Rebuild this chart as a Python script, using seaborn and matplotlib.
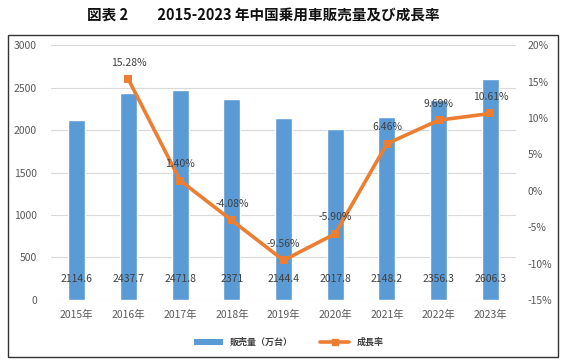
import numpy as np
import pandas as pd
import matplotlib
matplotlib.use("Agg")
import matplotlib.pyplot as plt
import seaborn as sns
from matplotlib.patches import Rectangle
from matplotlib.lines import Line2D
from matplotlib.patches import Patch

# ==========================================
# Data
# ==========================================

years = ["2015年", "2016年", "2017年", "2018年", "2019年",
         "2020年", "2021年", "2022年", "2023年"]
sales = [2114.6, 2437.7, 2471.8, 2371, 2144.4, 2017.8, 2148.2, 2356.3, 2606.3]
sales_labels = ["2114.6", "2437.7", "2471.8", "2371", "2144.4",
                "2017.8", "2148.2", "2356.3", "2606.3"]
growth = [np.nan, 15.28, 1.40, -4.08, -9.56, -5.90, 6.46, 9.69, 10.61]

bar_color = "#5B9BD5"
line_color = "#ED7D31"
text_color = "#595959"

df = pd.DataFrame({"year": years, "sales": sales, "growth": growth})
df["pos"] = np.arange(len(df))

# ==========================================
# Style
# ==========================================

sns.set_theme(style="white")
plt.rcParams["font.family"] = ["Noto Sans CJK JP", "DejaVu Sans"]
plt.rcParams["axes.unicode_minus"] = False

fig = plt.figure(figsize=(5.66, 3.64), dpi=100)
ax = fig.add_axes([0.090, 0.176, 0.822, 0.700])

# ==========================================
# Bars (left axis)
# ==========================================

sns.barplot(data=df, x="pos", y="sales", color=bar_color, width=0.33,
            saturation=1, ax=ax, zorder=2)
ax.set_ylim(0, 3000)
ax.set_yticks(np.arange(0, 3001, 500))
ax.set_xlim(-0.5, len(df) - 0.5)
ax.set_xticks(df["pos"])
ax.set_xticklabels(years)
ax.set_xlabel("")
ax.set_ylabel("")
ax.grid(axis="y", color="#D9D9D9", linewidth=0.8, zorder=0)
ax.set_axisbelow(True)
for s in ax.spines.values():
    s.set_visible(False)
ax.tick_params(axis="both", length=0, labelsize=7.5, colors=text_color)
ax.tick_params(axis="x", pad=7)
ax.tick_params(axis="y", pad=10)

for i, lab in enumerate(sales_labels):
    ax.annotate(lab, xy=(i, 0), xytext=(0, 15), textcoords="offset points",
                ha="center", va="center", fontsize=7.5, color="#404040",
                zorder=5)

# ==========================================
# Growth line (right axis)
# ==========================================

ax2 = ax.twinx()
sns.lineplot(data=df.dropna(), x="pos", y="growth", color=line_color,
             linewidth=2.6, marker="s", markersize=6, markeredgewidth=0,
             ax=ax2, zorder=3)
ax2.set_ylim(-15, 20)
ax2.set_yticks(np.arange(-15, 21, 5))
ax2.set_yticklabels([f"{v}%" for v in range(-15, 21, 5)])
ax2.set_xlim(-0.5, len(df) - 0.5)
ax2.set_ylabel("")
ax2.set_xlabel("")
for s in ax2.spines.values():
    s.set_visible(False)
ax2.tick_params(axis="y", length=0, labelsize=7.5, colors=text_color, pad=8)

for i, g in zip(df["pos"], df["growth"]):
    if np.isnan(g):
        continue
    ax2.annotate(f"{g:.2f}%", xy=(i, g), xytext=(0, 12),
                 textcoords="offset points", ha="center", va="center",
                 fontsize=7.5, color="#404040", zorder=6)

# ==========================================
# Legend, title, frame
# ==========================================

handles = [
    Patch(facecolor=bar_color, edgecolor="none"),
    Line2D([0], [0], color=line_color, linewidth=2.6, marker="s",
           markersize=5),
]
fig.legend(handles, ["販売量（万台）", "成長率"], loc="center",
           bbox_to_anchor=(0.51, 0.06), ncol=2, frameon=False,
           prop={"size": 6.5, "weight": "bold"}, handlelength=3.2,
           columnspacing=3.0, labelcolor="#404040")

fig.text(0.465, 0.957, "図表 2　　2015-2023 年中国乗用車販売量及び成長率",
         ha="center", va="center", fontsize=10.5, fontweight="bold",
         color="#111111")

fig.patches.append(Rectangle((0.014, 0.019), 0.972, 0.885,
                             transform=fig.transFigure, fill=False,
                             edgecolor="#333333", linewidth=1))

fig.savefig("out.png", dpi=100)
